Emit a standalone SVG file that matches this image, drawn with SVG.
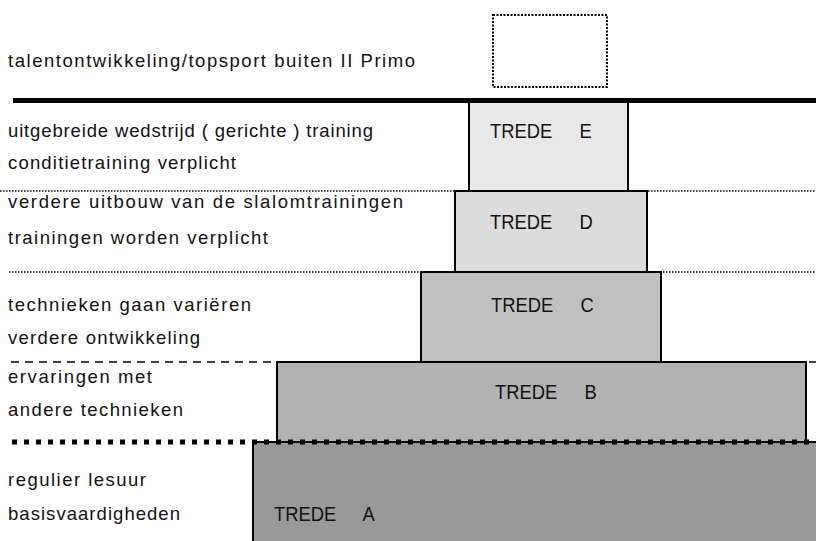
<svg xmlns="http://www.w3.org/2000/svg" width="816" height="541" viewBox="0 0 816 541">
<style>
.step{stroke:#000;stroke-width:2}
.lbl{font-family:"Liberation Sans",Arial,sans-serif;font-size:18.5px;fill:#111}
.tr{font-family:"Liberation Sans",Arial,sans-serif;font-size:20px;fill:#111;word-spacing:24px}
.sep{fill:none;stroke:#000}
</style>
<rect width="816" height="541" fill="#fff"/>
<g id="topsport">
<rect x="493" y="15" width="114" height="72" fill="none" stroke="#000" stroke-width="2" stroke-dasharray="2 1.5"/>
<text class="lbl" x="8" y="67" textLength="407" lengthAdjust="spacing">talentontwikkeling/topsport buiten II Primo</text>
</g>
<g id="tredeA">
<rect class="step" x="253" y="442" width="580" height="110" fill="#999999"/>
<text class="tr" transform="translate(274,521) scale(0.92,1)">TREDE A</text>
<text class="lbl" x="8" y="486" textLength="138" lengthAdjust="spacing">regulier lesuur</text>
<text class="lbl" x="8" y="520" textLength="172" lengthAdjust="spacing">basisvaardigheden</text>
</g>
<g id="tredeB">
<rect class="step" x="277" y="362" width="529" height="80" fill="#b2b2b2"/>
<text class="tr" transform="translate(495,399) scale(0.92,1)">TREDE B</text>
<text class="lbl" x="8" y="383" textLength="144" lengthAdjust="spacing">ervaringen met</text>
<text class="lbl" x="8" y="416" textLength="175" lengthAdjust="spacing">andere technieken</text>
</g>
<g id="tredeC">
<rect class="step" x="421" y="272" width="240" height="90" fill="#c0c0c0"/>
<text class="tr" transform="translate(491,312) scale(0.92,1)">TREDE C</text>
<text class="lbl" x="8" y="311" textLength="243" lengthAdjust="spacing">technieken gaan variëren</text>
<text class="lbl" x="8" y="344" textLength="192" lengthAdjust="spacing">verdere ontwikkeling</text>
</g>
<g id="tredeD">
<rect class="step" x="455" y="191" width="192" height="81" fill="#dcdcdc"/>
<text class="tr" transform="translate(490,229) scale(0.92,1)">TREDE D</text>
<text class="lbl" x="8" y="208" textLength="395" lengthAdjust="spacing">verdere uitbouw van de slalomtrainingen</text>
<text class="lbl" x="8" y="244" textLength="260" lengthAdjust="spacing">trainingen worden verplicht</text>
</g>
<g id="tredeE">
<rect class="step" x="469" y="100" width="159" height="91" fill="#e8e8e8"/>
<text class="tr" transform="translate(490,138) scale(0.92,1)">TREDE E</text>
<text class="lbl" x="8" y="137" textLength="365" lengthAdjust="spacing">uitgebreide wedstrijd ( gerichte ) training</text>
<text class="lbl" x="8" y="169" textLength="228" lengthAdjust="spacing">conditietraining verplicht</text>
</g>
<g id="connectors">
<line class="sep" x1="13" y1="100.5" x2="816" y2="100.5" stroke-width="5"/>
<line class="sep" x1="0" y1="191" x2="816" y2="191" stroke-width="1.5" stroke-dasharray="1.5 1.5"/>
<line class="sep" x1="9" y1="272" x2="816" y2="272" stroke-width="1.5" stroke-dasharray="1.5 1.5"/>
<line class="sep" x1="11" y1="362" x2="816" y2="362" stroke-width="1.5" stroke-dasharray="8 6"/>
<line class="sep" x1="12" y1="442" x2="816" y2="442" stroke-width="5" stroke-dasharray="5 7"/>
</g>
</svg>
